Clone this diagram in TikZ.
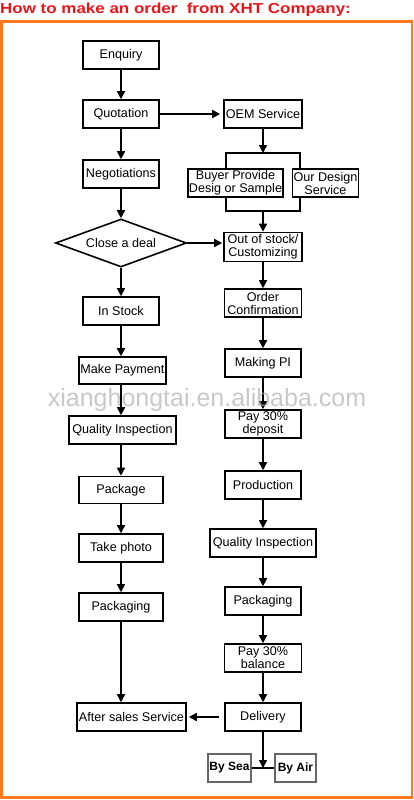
\documentclass[tikz,border=0pt]{standalone}
\usepackage{fontspec}
\setmainfont{Liberation Sans}
\usetikzlibrary{arrows.meta,shapes.geometric}
\definecolor{titlered}{RGB}{235,20,25}
\definecolor{frameorange}{RGB}{255,120,30}
\tikzset{
  box/.style={draw,line width=1.6pt,minimum height=28pt,inner sep=0pt,align=center,fill=white,font=\fontsize{12.6}{13}\selectfont},
  subbox/.style={box,line width=1.1pt},
  shipbox/.style={draw=black!60,line width=1.1pt,minimum height=28pt,inner sep=0pt,fill=white,font=\bfseries\fontsize{12}{13}\selectfont},
  arr/.style={line width=1.6pt,-{Triangle[length=8pt,width=8pt]}},
}
\begin{document}
\begin{tikzpicture}[x=1pt,y=-1pt]
\useasboundingbox (0,0) rectangle (414,800);
\fill[white] (0,0) rectangle (414,800);
\node[anchor=west,inner sep=0pt,text=titlered,font=\bfseries\fontsize{14.5}{14.5}\selectfont] (title) at (0,10) {\scalebox{1.17}[1]{How to make an order~ from XHT Company:}};
\draw[frameorange,line width=2.5pt] (1.5,21.5) rectangle (412,797.5);
\coordinate (brtl) at (226,153);
\coordinate (brbr) at (300,211);
\draw[line width=1.3pt] (brtl) rectangle (brbr);
\node[box,minimum width=76pt] (enq) at (121,55) {Enquiry};
\node[box,minimum width=76pt] (quo) at (121,114) {Quotation};
\node[box,minimum width=78pt] (oem) at (263,114) {OEM Service};
\node[box,minimum width=76pt] (neg) at (121,174) {Negotiations};
\node[subbox,minimum width=95pt] (buyer) at (235.5,183) {Buyer Provide\\Desig or Sample};
\node[subbox,minimum width=66pt] (ours) at (325.5,183) {Our Design\\Service};
\node[draw,diamond,aspect=2.7,line width=1.6pt,minimum width=131pt,minimum height=48pt,inner sep=0pt,fill=white,font=\fontsize{12.6}{13}\selectfont] (deal) at (121,243) {Close a deal};
\node[box,minimum width=78pt,minimum height=29pt] (oos) at (263,247) {Out of stock/\\Customizing};
\node[box,minimum width=76pt] (stock) at (121,311) {In Stock};
\node[box,minimum width=77pt] (conf) at (263,303) {Order\\Confirmation};
\node[box,minimum width=87pt,minimum height=27pt] (pay) at (122.5,370.5) {Make Payment};
\node[box,minimum width=76pt] (pi) at (263,363) {Making PI};
\node[box,minimum width=107pt] (qil) at (122.5,430) {Quality Inspection};
\node[box,minimum width=76pt] (dep) at (263,424) {Pay 30\%\\deposit};
\node[box,minimum width=84pt,minimum height=27pt] (pack) at (121,490) {Package};
\node[box,minimum width=76pt] (prod) at (263,485) {Production};
\node[box,minimum width=84pt] (photo) at (121,548) {Take photo};
\node[box,minimum width=106pt] (qir) at (263,543) {Quality Inspection};
\node[box,minimum width=84pt] (packl) at (121,607) {Packaging};
\node[box,minimum width=76pt] (packr) at (263,601) {Packaging};
\node[box,minimum width=77pt] (bal) at (263,658) {Pay 30\%\\balance};
\node[box,minimum width=109pt] (after) at (131.5,717) {After sales Service};
\node[box,minimum width=76pt] (deliv) at (263,717) {Delivery};
\node[shipbox,minimum width=43pt] (sea) at (229.5,768) {By Sea};
\node[shipbox,minimum width=41pt] (air) at (295.5,768) {By Air};
\coordinate (ship) at (263,768);
\draw[arr] (enq) -- (quo);
\draw[arr,shorten >=3pt] (quo) -- (oem);
\draw[arr] (quo) -- (neg);
\draw[arr] (neg) -- (deal);
\draw[arr,shorten >=1pt] (deal.east) -- (deal.east -| oos.west);
\draw[arr] (deal) -- (stock);
\draw[arr] (stock) -- (stock |- pay.north);
\draw[arr] (pay.south -| stock.south) -- (qil.north -| stock.south);
\draw[arr] (qil.south -| stock.south) -- (pack.north -| stock.south);
\draw[arr] (pack) -- (photo);
\draw[arr] (photo) -- (packl);
\draw[arr] (packl.south) -- (packl.south |- after.north);
\draw[arr] (oem) -- (oem.south |- brtl);
\draw[arr] (oos.north |- brbr) -- (oos);
\draw[arr] (oos) -- (conf);
\draw[arr] (conf) -- (pi);
\draw[arr] (pi) -- (dep);
\draw[arr] (dep) -- (prod);
\draw[arr] (prod) -- (qir);
\draw[arr] (qir) -- (packr);
\draw[arr] (packr) -- (bal);
\draw[arr] (bal) -- (deliv);
\draw[arr,shorten <=5pt,shorten >=2pt] (deliv) -- (after);
\draw[line width=1.3pt] (sea) -- (air);
\draw[arr] (deliv) -- (ship);
\node[text=black!30,opacity=0.7,inner sep=0pt,font=\fontsize{25}{25}\selectfont] (mark) at (207,400) {xianghongtai.en.alibaba.com};
\end{tikzpicture}
\end{document}
